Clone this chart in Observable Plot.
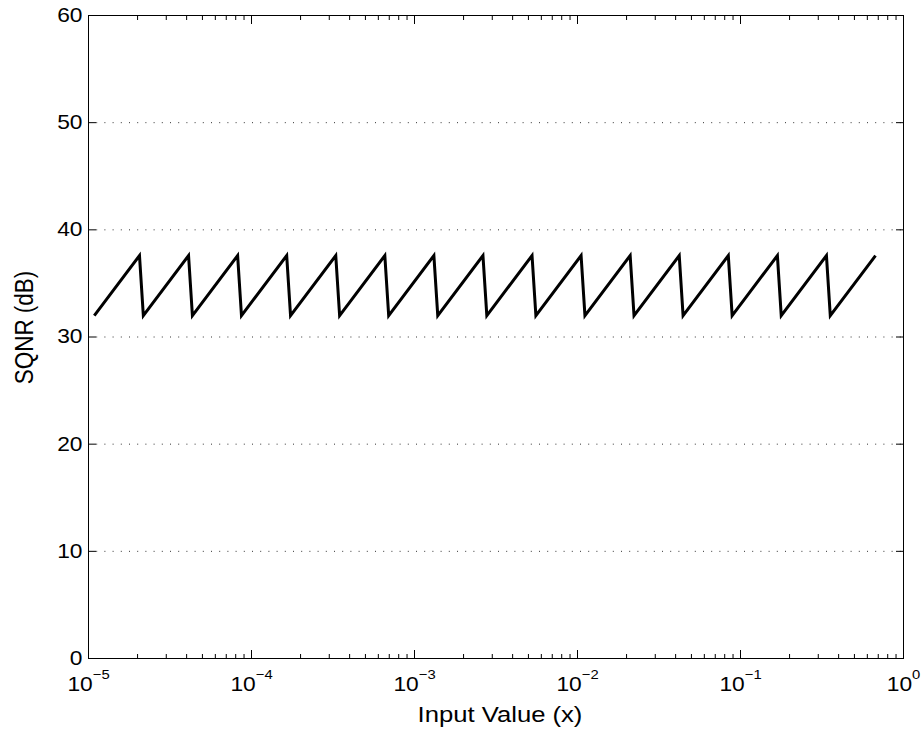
<!DOCTYPE html>
<html>
<head>
<meta charset="utf-8">
<script src="https://cdn.jsdelivr.net/npm/d3@7"></script>
<script src="https://cdn.jsdelivr.net/npm/@observablehq/plot@0.6"></script>
<style>
  html, body { margin: 0; padding: 0; background: #ffffff; }
  #chart { width: 924px; height: 733px; }
</style>
</head>
<body>
<div id="chart"></div>
<script>
// ---- Data ----
// Sawtooth: alternating octave start (low) and octave end (peak) samples
const inputValue = [
  1.085e-5, 2.055e-5,
  2.17e-5,  4.11e-5,
  4.34e-5,  8.22e-5,
  8.68e-5,  1.644e-4,
  1.736e-4, 3.288e-4,
  3.472e-4, 6.576e-4,
  6.944e-4, 1.315e-3,
  1.389e-3, 2.630e-3,
  2.778e-3, 5.261e-3,
  5.555e-3, 1.052e-2,
  1.111e-2, 2.104e-2,
  2.222e-2, 4.209e-2,
  4.444e-2, 8.418e-2,
  8.888e-2, 0.1684,
  0.1778,   0.3367,
  0.3555,   0.6734
];
const sqnr = [
  32.0, 37.6,
  32.0, 37.6,
  32.0, 37.6,
  32.0, 37.6,
  32.0, 37.6,
  32.0, 37.6,
  32.0, 37.6,
  32.0, 37.6,
  32.0, 37.6,
  32.0, 37.6,
  32.0, 37.6,
  32.0, 37.6,
  32.0, 37.6,
  32.0, 37.6,
  32.0, 37.6,
  32.0, 37.6
];

const xMajorTicks = [1e-5, 1e-4, 1e-3, 1e-2, 1e-1, 1];
const xTickExponents = ["\u22125", "\u22124", "\u22123", "\u22122", "\u22121", "0"];
const yTicks = [0, 10, 20, 30, 40, 50, 60];
const yGridLines = [10, 20, 30, 40, 50];
const xLabel = "Input Value (x)";
const yLabel = "SQNR (dB)";

// minor log ticks 2..9 x 10^k
const xMinorTicks = [];
for (let e = -5; e < 0; e++) for (let m = 2; m <= 9; m++) xMinorTicks.push(+(m * Math.pow(10, e)).toPrecision(3));

const table = inputValue.map((x, i) => ({x, y: sqnr[i]}));

const none = () => "";

const chart = Plot.plot({
  width: 924,
  height: 733,
  marginLeft: 88,
  marginRight: 21,
  marginTop: 15,
  marginBottom: 75,
  style: {fontFamily: "'Liberation Sans', Arial, Helvetica, sans-serif", background: "#ffffff", color: "#000"},
  x: {type: "log", domain: [1e-5, 1]},
  y: {domain: [0, 60]},
  marks: [
    // dotted horizontal grid
    Plot.ruleY(yGridLines, {stroke: "#000", strokeWidth: 1, strokeDasharray: "1,7.2", strokeOpacity: 0.8}),
    // box
    Plot.frame({stroke: "#000", strokeWidth: 1}),
    // inward ticks: bottom / top
    Plot.axisX(xMajorTicks, {anchor: "bottom", tickSize: -8, fill: "none", label: null}),
    Plot.axisX(xMinorTicks, {anchor: "bottom", tickSize: -4, fill: "none", label: null}),
    Plot.axisX(xMajorTicks, {anchor: "top", tickSize: -8, fill: "none", label: null}),
    Plot.axisX(xMinorTicks, {anchor: "top", tickSize: -4, fill: "none", label: null}),
    // inward ticks: left / right
    Plot.axisY(yTicks, {anchor: "left", tickSize: -8, fill: "none", label: null}),
    Plot.axisY(yTicks, {anchor: "right", tickSize: -8, fill: "none", label: null}),
    // tick labels
    Plot.axisX(xMajorTicks, {anchor: "bottom", tickSize: 0, tickPadding: 18, fontSize: 20,
      tickFormat: (d) => xTickExponents[xMajorTicks.indexOf(d)], label: null, fill: "#000"}),
    Plot.axisY(yTicks, {anchor: "left", tickSize: 0, tickPadding: 6, fontSize: 20, label: null, fill: "#000"}),
    // the data line
    Plot.line(table, {x: "x", y: "y", stroke: "#000", strokeWidth: 3, strokeLinejoin: "miter", strokeLinecap: "butt", strokeMiterlimit: 6}),
    // axis titles
    Plot.text([xLabel], {frameAnchor: "bottom", dy: 56, dx: 4, fontSize: 22.5, lineAnchor: "middle", textAnchor: "middle", fill: "#000"}),
    Plot.text([yLabel], {frameAnchor: "left", rotate: -90, dx: -63.5, dy: -9.5, fontSize: 22.5, lineAnchor: "middle", textAnchor: "middle", fill: "#000"})
  ]
});

document.getElementById("chart").appendChild(chart);

// superscript exponents on x tick labels: "10" + raised exponent
d3.select(chart).selectAll('g[aria-label="x-axis tick label"] text').each(function() {
  const exp = this.textContent;
  if (!exp) return;
  const t = d3.select(this);
  t.text(null);
  t.append("tspan").text("10");
  t.append("tspan").attr("font-size", 13).attr("dy", -11.5).text(exp);
});

// the reference's lettering is slightly wider than Arial; widen horizontally about each anchor
const S = 1.14;
d3.select(chart).selectAll("text").each(function() {
  const px = parseFloat(this.getAttribute("x")) || 0;
  const py = parseFloat(this.getAttribute("y")) || 0;
  const tl = this.transform && this.transform.baseVal;
  const c = tl && tl.numberOfItems ? tl.consolidate() : null;
  let ax = px, ay = py;
  if (c) {
    const m = c.matrix;
    ax = m.a * px + m.c * py + m.e;
    ay = m.b * px + m.d * py + m.f;
  }
  const old = this.getAttribute("transform") || "";
  this.setAttribute("transform", `translate(${ax},${ay}) scale(${S},1) translate(${-ax},${-ay}) ${old}`);
});
</script>
</body>
</html>
